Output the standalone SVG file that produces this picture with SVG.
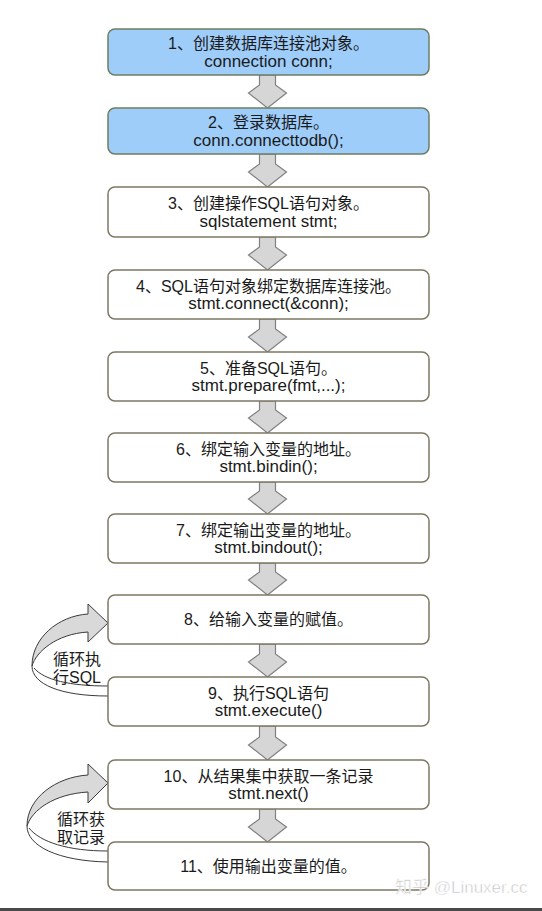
<svg xmlns="http://www.w3.org/2000/svg" width="542" height="911" viewBox="0 0 542 911">
<style>
.box{fill:#ffffff;stroke:#7d7862;stroke-width:1.5}
.blue{fill:#9fcdfa;stroke:#6e7d60}
.t{font-family:"Liberation Sans","Noto Sans CJK SC",sans-serif;font-size:16px;fill:#1a1a1a;text-anchor:middle}
.c{font-size:17px}
.arr{fill:#d6d6d6;stroke:#808080;stroke-width:1.2;stroke-linejoin:miter}
.loop{fill:#d9d9d9;stroke:#3a3a3a;stroke-width:1}
.ln{fill:none;stroke:#3a3a3a;stroke-width:1}
.lt{font-family:"Liberation Sans","Noto Sans CJK SC",sans-serif;font-size:16px;fill:#1a1a1a}
</style>
<rect width="542" height="911" fill="#ffffff"/>
<g id="connectors">
<path class="arr" d="M259.5,75 V85 L248.5,93 L267.5,108 L286.5,93 L275.5,85 V75 Z"/>
<path class="arr" d="M259.5,154 V164 L248.5,172 L267.5,187 L286.5,172 L275.5,164 V154 Z"/>
<path class="arr" d="M259.5,237 V247 L248.5,255 L267.5,270 L286.5,255 L275.5,247 V237 Z"/>
<path class="arr" d="M259.5,319 V329 L248.5,337 L267.5,352 L286.5,337 L275.5,329 V319 Z"/>
<path class="arr" d="M259.5,401 V410 L248.5,418 L267.5,433 L286.5,418 L275.5,410 V401 Z"/>
<path class="arr" d="M259.5,482 V491 L248.5,499 L267.5,514 L286.5,499 L275.5,491 V482 Z"/>
<path class="arr" d="M259.5,563 V572 L248.5,580 L267.5,595 L286.5,580 L275.5,572 V563 Z"/>
<path class="arr" d="M259.5,644 V654 L248.5,662 L267.5,677 L286.5,662 L275.5,654 V644 Z"/>
<path class="arr" d="M259.5,726 V737 L248.5,745 L267.5,760 L286.5,745 L275.5,737 V726 Z"/>
<path class="arr" d="M259.5,809 V819 L248.5,827 L267.5,842 L286.5,827 L275.5,819 V809 Z"/>
<g id="loop-sql">
<path class="ln" d="M34,668 C44,680 70,686 108,686"/>
<path class="ln" d="M32,666 C32,684 60,696 108,696"/>
<path class="loop" d="M32,666 C32,638 58,616 88,614 L88,604 L108,623 L88,642 L88,632 C56,634 36,652 32,666 Z"/>
</g>
<g id="loop-fetch">
<path class="ln" d="M29,828 C40,842 68,851 108,851"/>
<path class="ln" d="M27,826 C27,846 58,861 108,862"/>
<path class="loop" d="M27,826 C27,798 56,777 88,775 L88,764 L108,783 L88,803 L88,792 C54,794 32,810 27,826 Z"/>
</g>
</g>
<g id="n1"><rect class="box blue" x="108" y="29" width="321" height="46" rx="7"/>
<text class="t" x="268.5" y="49">1、创建数据库连接池对象。</text><text class="t c" x="268.5" y="66.5">connection conn;</text></g>
<g id="n2"><rect class="box blue" x="108" y="108" width="321" height="46" rx="7"/>
<text class="t" x="268.5" y="128">2、登录数据库。</text><text class="t c" x="268.5" y="145.5">conn.connecttodb();</text></g>
<g id="n3"><rect class="box" x="108" y="187" width="321" height="50" rx="7"/>
<text class="t" x="268.5" y="209">3、创建操作SQL语句对象。</text><text class="t c" x="268.5" y="226.5">sqlstatement stmt;</text></g>
<g id="n4"><rect class="box" x="108" y="270" width="321" height="49" rx="7"/>
<text class="t" x="268.5" y="291.5">4、SQL语句对象绑定数据库连接池。</text><text class="t c" x="268.5" y="309">stmt.connect(&amp;conn);</text></g>
<g id="n5"><rect class="box" x="108" y="352" width="321" height="49" rx="7"/>
<text class="t" x="268.5" y="373.5">5、准备SQL语句。</text><text class="t c" x="268.5" y="391">stmt.prepare(fmt,...);</text></g>
<g id="n6"><rect class="box" x="108" y="433" width="321" height="49" rx="7"/>
<text class="t" x="268.5" y="454.5">6、绑定输入变量的地址。</text><text class="t c" x="268.5" y="472">stmt.bindin();</text></g>
<g id="n7"><rect class="box" x="108" y="514" width="321" height="49" rx="7"/>
<text class="t" x="268.5" y="535.5">7、绑定输出变量的地址。</text><text class="t c" x="268.5" y="553">stmt.bindout();</text></g>
<g id="n8"><rect class="box" x="108" y="595" width="321" height="49" rx="7"/>
<text class="t" x="268.5" y="625">8、给输入变量的赋值。</text></g>
<g id="n9"><rect class="box" x="108" y="677" width="321" height="49" rx="7"/>
<text class="t" x="268.5" y="698.5">9、执行SQL语句</text><text class="t c" x="268.5" y="716">stmt.execute()</text></g>
<g id="n10"><rect class="box" x="108" y="760" width="321" height="49" rx="7"/>
<text class="t" x="268.5" y="781.5">10、从结果集中获取一条记录</text><text class="t c" x="268.5" y="799">stmt.next()</text></g>
<g id="n11"><rect class="box" x="108" y="842" width="321" height="48" rx="7"/>
<text class="t" x="268.5" y="871.5">11、使用输出变量的值。</text></g>
<g id="loop-labels">
<text class="lt" x="53" y="665">循环执</text><text class="lt" x="53" y="683">行SQL</text>
<text class="lt" x="57" y="825">循环获</text><text class="lt" x="57" y="843">取记录</text>
</g>
<text x="395" y="893" font-family="Liberation Sans,Noto Sans CJK SC,sans-serif" font-size="17" fill="#c4c4c4" stroke="#ffffff" stroke-width="0.5">知乎 @Linuxer.cc</text>
<rect x="0" y="908" width="542" height="3" fill="#4a4a4a"/>
</svg>
